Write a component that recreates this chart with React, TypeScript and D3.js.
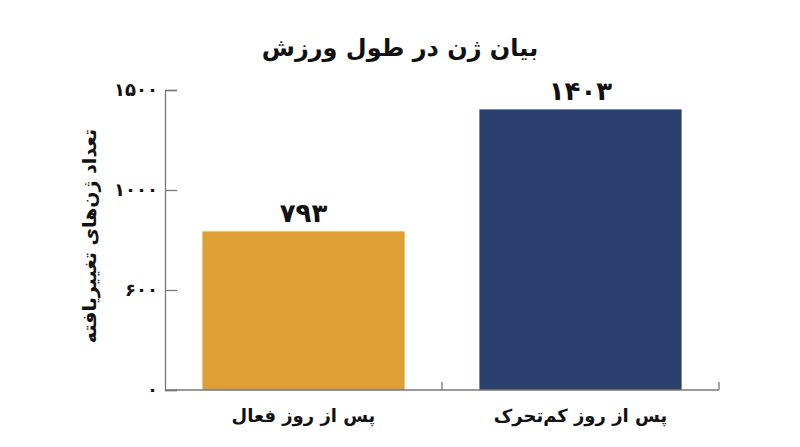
import React, { useEffect, useRef } from 'react';
import * as d3 from 'd3';

const categories = ['پس از روز فعال', 'پس از روز کم‌تحرک'];
const values = [793, 1403];
const valueLabels = ['۷۹۳', '۱۴۰۳'];
const barColors = ['#E09F35', '#2A3F6D'];
const yTicks = [0, 500, 1000, 1500];
const yTickLabels = ['۰', '۶۰۰', '۱۰۰۰', '۱۵۰۰'];

const W = 800;
const H = 447;
const FONT = '"DejaVu Sans", sans-serif';

const App: React.FC = () => {
  const svgRef = useRef<SVGSVGElement>(null);

  useEffect(() => {
    if (!svgRef.current) return;
    const svg = d3.select(svgRef.current);
    svg.selectAll('*').remove();

    const margin = { top: 90, right: 81, bottom: 57, left: 165 };
    const width = W - margin.left - margin.right;
    const height = H - margin.top - margin.bottom;

    const x = d3.scaleBand<string>()
      .domain(categories)
      .range([0, width])
      .paddingInner(0.27)
      .paddingOuter(0.135);

    const y = d3.scaleLinear().domain([0, 1500]).range([height, 0]);

    const g = svg.append('g').attr('transform', `translate(${margin.left},${margin.top})`);

    // title
    svg.append('text')
      .attr('x', W / 2)
      .attr('y', 56)
      .attr('text-anchor', 'middle')
      .attr('direction', 'rtl')
      .attr('font-family', FONT)
      .attr('font-weight', 'bold')
      .attr('font-size', 24)
      .attr('fill', '#111')
      .text('بیان ژن در طول ورزش');

    // bars
    g.selectAll('.bar')
      .data(values)
      .enter()
      .append('rect')
      .attr('class', 'bar')
      .attr('x', (_, i) => x(categories[i]) || 0)
      .attr('y', d => y(d))
      .attr('width', x.bandwidth())
      .attr('height', d => height - y(d))
      .attr('fill', (_, i) => barColors[i]);

    // value labels
    g.selectAll('.val')
      .data(values)
      .enter()
      .append('text')
      .attr('class', 'val')
      .attr('x', (_, i) => (x(categories[i]) || 0) + x.bandwidth() / 2)
      .attr('y', d => y(d) - 9)
      .attr('text-anchor', 'middle')
      .attr('font-family', FONT)
      .attr('font-weight', 'bold')
      .attr('font-size', 26)
      .attr('fill', '#111')
      .text((_, i) => valueLabels[i]);

    // y axis
    const yAxis = d3.axisLeft(y)
      .tickValues(yTicks)
      .tickSize(-12)
      .tickPadding(7)
      .tickFormat((_, i) => yTickLabels[i]);
    const ya = g.append('g').call(yAxis);
    ya.select('.domain').attr('stroke', '#777').attr('stroke-width', 1.3);
    ya.selectAll('.tick line').attr('stroke', '#777').attr('stroke-width', 1.3);
    ya.selectAll('.tick text')
      .attr('font-family', FONT)
      .attr('font-weight', 'bold')
      .attr('font-size', 18)
      .attr('fill', '#111');

    // x axis with ticks at band boundaries
    const xa = g.append('g').attr('transform', `translate(0,${height})`);
    xa.append('line')
      .attr('x1', 0).attr('x2', width)
      .attr('stroke', '#777').attr('stroke-width', 1.3);
    const step = x.step();
    const bounds = categories.map((_, i) => step * (i + 1));
    xa.selectAll('.xt')
      .data(bounds)
      .enter()
      .append('line')
      .attr('class', 'xt')
      .attr('x1', d => d).attr('x2', d => d)
      .attr('y1', 0).attr('y2', -8)
      .attr('stroke', '#777').attr('stroke-width', 1.3);

    xa.selectAll('.xl')
      .data(categories)
      .enter()
      .append('text')
      .attr('class', 'xl')
      .attr('x', d => (x(d) || 0) + x.bandwidth() / 2)
      .attr('y', 32)
      .attr('text-anchor', 'middle')
      .attr('direction', 'rtl')
      .attr('font-family', FONT)
      .attr('font-weight', 'bold')
      .attr('font-size', 18)
      .attr('fill', '#111')
      .text(d => d);

    // y label
    svg.append('text')
      .attr('transform', `translate(96,${margin.top + height / 2 - 4}) rotate(-90)`)
      .attr('text-anchor', 'middle')
      .attr('direction', 'rtl')
      .attr('font-family', FONT)
      .attr('font-weight', 'bold')
      .attr('font-size', 19)
      .attr('fill', '#111')
      .text('تعداد ژن‌های تغییریافته');
  }, []);

  return (
    <svg
      ref={svgRef}
      width={W}
      height={H}
      style={{ position: 'absolute', left: 0, top: 0, background: '#fff' }}
    />
  );
};

export default App;
